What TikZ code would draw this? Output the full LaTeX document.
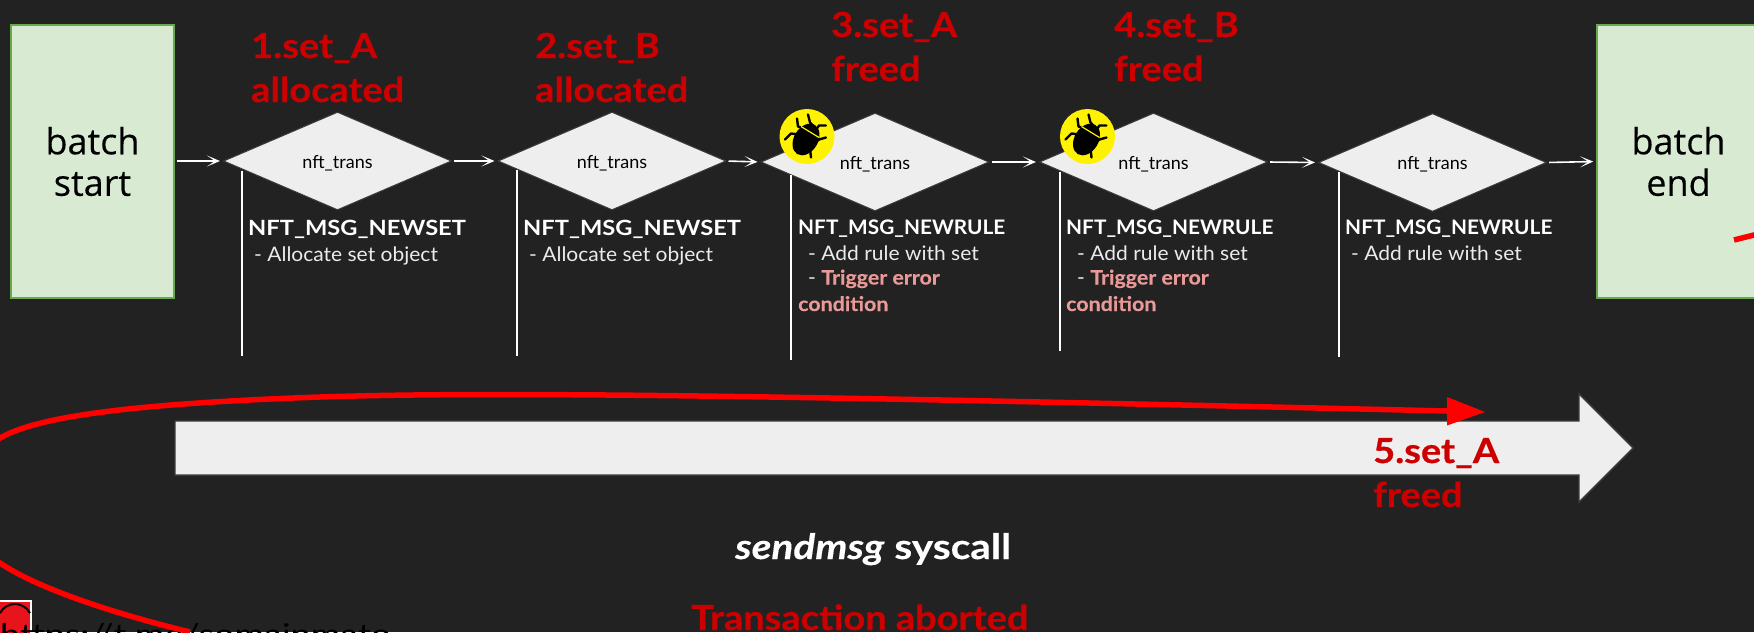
\documentclass[tikz,border=0pt]{standalone}
\usepackage{fontspec}
\setmainfont[FakeStretch=1.05]{Lato}
\newfontfamily\boxfont[FakeBold=0.25]{Open Sans}
\newfontfamily\redfont[FakeStretch=1.10,BoldFeatures={FakeBold=0.6}]{Lato}
\newfontfamily\msgAfont[FakeStretch=1.127]{Lato}
\newfontfamily\msgBfont[FakeStretch=1.04]{Lato}
\newfontfamily\errfont[FakeStretch=1.07,BoldFeatures={FakeBold=0.3}]{Lato}
\newfontfamily\sysfont[FakeStretch=1.16,BoldFeatures={FakeBold=0.3},BoldItalicFeatures={FakeBold=0.3}]{Lato}
\newfontfamily\linkfont[FakeStretch=1.2]{Lato}
\newfontfamily\transfont{Lato}
\usetikzlibrary{shapes.geometric,arrows.meta}
\definecolor{bgc}{HTML}{222222}
\definecolor{boxfill}{HTML}{D9EAD3}
\definecolor{boxline}{HTML}{6AA84F}
\definecolor{shapefill}{HTML}{EEEEEE}
\definecolor{shapeline}{HTML}{3A3A3A}
\definecolor{labred}{HTML}{CC0000}
\definecolor{errpink}{HTML}{EA9999}
\definecolor{iconred}{HTML}{E8141C}
\tikzset{
  x=1pt,y=-1pt,
  batchbox/.style={draw=boxline,fill=boxfill,line width=1.6pt,inner sep=0pt,minimum width=163pt,minimum height=273pt,text=black,align=center,font=\boxfont\fontsize{36}{43}\selectfont},
  trans/.style={diamond,draw=shapeline,fill=shapefill,line width=1pt,inner sep=0pt,aspect=2.32,minimum width=228pt,minimum height=98pt,text=black,font=\transfont\fontsize{18}{22}\selectfont},
  flow/.style={draw=white,line width=1.6pt,-{Stealth[length=13pt,width=11pt,inset=8pt]},shorten >=3pt,shorten <=2pt},
  rail/.style={draw=white,line width=1.6pt},
  redlab/.style={anchor=base west,inner sep=0pt,text=labred,font=\redfont\bfseries\fontsize{34.5}{44}\selectfont},
  msga/.style={anchor=base west,inner sep=0pt,text=white,font=\msgAfont\bfseries\fontsize{21}{26}\selectfont},
  msgb/.style={anchor=base west,inner sep=0pt,text=white,font=\msgBfont\bfseries\fontsize{20}{26}\selectfont},
  sub/.style={anchor=base west,inner sep=0pt,text=white!92!black,font=\fontsize{20}{26}\selectfont},
  err/.style={anchor=base west,inner sep=0pt,text=errpink,font=\errfont\bfseries\fontsize{20}{26}\selectfont},
  bugdot/.style={circle,fill=yellow,inner sep=0pt,minimum size=55pt},
  redcurve/.style={draw=red,line width=5.5pt},
  bug/.pic={
    \fill[black,shift={(-1,3)},rotate=59] (0,0) ellipse [x radius=17,y radius=12];
    \draw[black,line width=2.4pt,line cap=round,line join=round]
      (-10,-18) -- (-9,-10) -- (-3,-8)
      (1,-22) -- (3,-14) -- (6,-11)
      (19,-11) -- (12,-11) -- (9,-7)
      (19,1) -- (12,3) -- (8,6)
      (4,21) -- (3,12) -- (0,9)
      (-22,3) -- (-16,-3) -- (-8,-2);
    \draw[yellow,line width=1.2pt] (-6,-10) -- (12,1);
  }
}
\begin{document}
\begin{tikzpicture}
\useasboundingbox (0,0) rectangle (1754,632);
\clip (0,0) rectangle (1754,632);
\fill[bgc] (0,0) rectangle (1754,632);

% batch boxes
\node[batchbox] (start) at (92.5,161.5) {\raisebox{-1.5pt}{batch}\\start};
\node[batchbox] (end) at (1678.5,161.5) {\raisebox{-1.5pt}{batch}\\end};

% diamonds
\node[trans] (d1) at (337.5,161) {\raisebox{0pt}[14pt][0pt]{nft\_trans}};
\node[trans] (d2) at (612,161) {\raisebox{0pt}[14pt][0pt]{nft\_trans}};
\node[trans] (d3) at (875,162) {\raisebox{0pt}[14pt][0pt]{nft\_trans}};
\node[trans] (d4) at (1153.5,162) {\raisebox{0pt}[14pt][0pt]{nft\_trans}};
\node[trans] (d5) at (1432.5,162.5) {\raisebox{0pt}[14pt][0pt]{nft\_trans}};

% flow arrows
\draw[flow] (start.east |- d1.west) -- (d1.west);
\draw[flow] (d1.east) -- (d2.west);
\draw[flow] (d2.east) -- (d3.west);
\draw[flow] (d3.east) -- (d4.west);
\draw[flow] (d4.east) -- (d5.west);
\draw[flow] (d5.east) -- (end.west);

% rails
\coordinate (r1a) at (242,171); \coordinate (r1b) at (242,356);
\coordinate (r2a) at (517,170); \coordinate (r2b) at (517,356);
\coordinate (r3a) at (791,175); \coordinate (r3b) at (791,360);
\coordinate (r4a) at (1060,172); \coordinate (r4b) at (1060,351);
\coordinate (r5a) at (1339,172); \coordinate (r5b) at (1339,357);
\draw[rail] (r1a) -- (r1b);
\draw[rail] (r2a) -- (r2b);
\draw[rail] (r3a) -- (r3b);
\draw[rail] (r4a) -- (r4b);
\draw[rail] (r5a) -- (r5b);

% bugs
\node[bugdot] (b1) at (807,136.5) {};
\pic at (b1) {bug};
\node[bugdot] (b2) at (1087.5,136.5) {};
\pic at (b2) {bug};

% message texts
\node[msga] (m1) at (248,235) {NFT\_MSG\_NEWSET};
\node[sub] (s1) at (254,261) {- Allocate set object};
\node[msga] (m2) at (523,235) {NFT\_MSG\_NEWSET};
\node[sub] (s2) at (529,261) {- Allocate set object};
\node[msgb] (m3) at (798,234) {NFT\_MSG\_NEWRULE};
\node[sub] (s3) at (808,260) {- Add rule with set};
\node[sub] (t3) at (808,284.5) {- \textcolor{errpink}{\errfont\bfseries Trigger error}};
\node[err] (c3) at (798,311) {condition};
\node[msgb] (m4) at (1066,234) {NFT\_MSG\_NEWRULE};
\node[sub] (s4) at (1077,260) {- Add rule with set};
\node[sub] (t4) at (1077,284.5) {- \textcolor{errpink}{\errfont\bfseries Trigger error}};
\node[err] (c4) at (1066,311) {condition};
\node[msgb] (m5) at (1345,234) {NFT\_MSG\_NEWRULE};
\node[sub] (s5) at (1351,260) {- Add rule with set};

% big arrow
\draw[draw=shapeline,fill=shapefill,line width=1.4pt,line join=miter]
  (175,421) -- (1579,421) -- (1579,394) -- (1633,448) -- (1579,502) -- (1579,475) -- (175,475) -- cycle;

% red labels
\node[redlab] (l1a) at (251,58) {1.set\_A};
\node[redlab] (l1b) at (251,102) {allocated};
\node[redlab] (l2a) at (535,58) {2.set\_B};
\node[redlab] (l2b) at (535,102) {allocated};
\node[redlab] (l3a) at (831,37) {3.set\_A};
\node[redlab] (l3b) at (831,81) {freed};
\node[redlab] (l4a) at (1114,37) {4.set\_B};
\node[redlab] (l4b) at (1114,81) {freed};
\node[redlab] (l5a) at (1373,463) {5.set\_A};
\node[redlab] (l5b) at (1373,507) {freed};

% bottom texts
\node[anchor=base west,inner sep=0pt,text=white,font=\sysfont\bfseries\fontsize{35}{40}\selectfont] (sys) at (735,559) {\textit{sendmsg} syscall};
\node[redlab] (abort) at (691,630) {Transaction aborted};

% clipped icon + link
\fill[white] (-2,600) rectangle (32,640);
\fill[iconred] (-2,602) rectangle (30,640);
\draw[black,line width=2pt] (0,613) .. controls (7,601) and (23,601) .. (30,613);
\node[anchor=base west,inner sep=0pt,text=black,font=\linkfont\fontsize{30}{36}\selectfont] (link) at (0,645) {https://t.me/somainmato};

% red curve
\coordinate (cs) at (190,632);
\coordinate (ce) at (1485,412);
\coordinate (cb) at (1447,411);
\draw[redcurve] (cs) .. controls (120,615) and (40,590) .. (0,563)
  .. controls (-60,523) and (-50,470) .. (0,438)
  .. controls (35,418) and (120,404) .. (320,397)
  .. controls (500,391) and (800,396) .. (cb);
\fill[red] (1447,397) -- (ce) -- (1447,425.5) -- cycle;
\coordinate (st) at (1734,240);
\coordinate (se) at (1770,231);
\draw[redcurve] (st) -- (se);
\end{tikzpicture}
\end{document}
